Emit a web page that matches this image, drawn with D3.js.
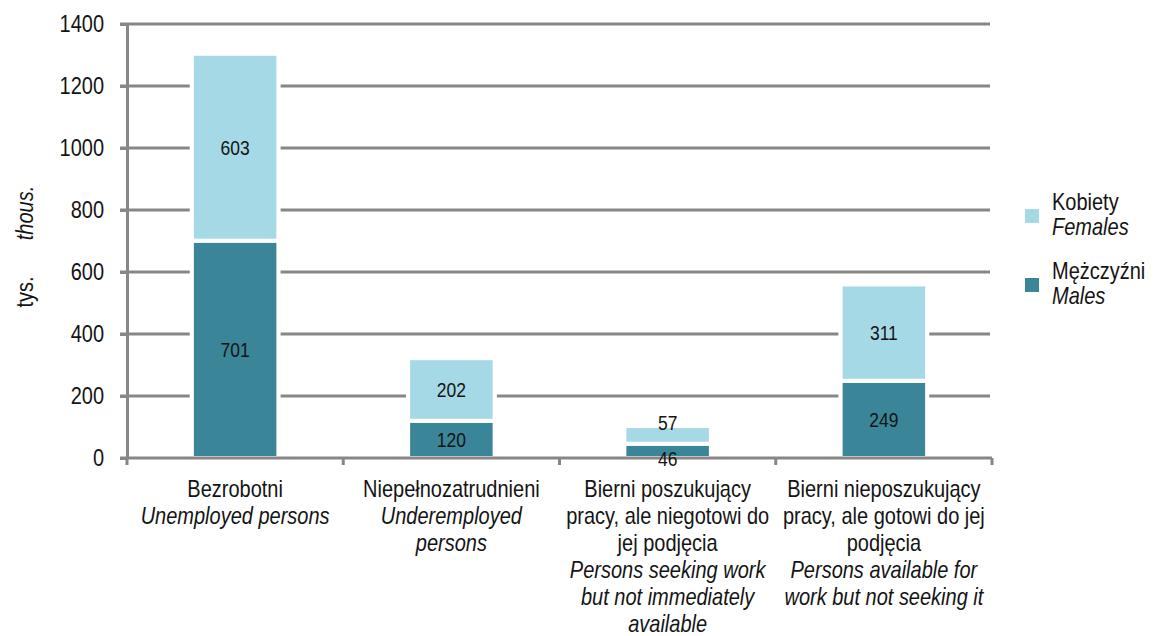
<!DOCTYPE html>
<html>
<head>
<meta charset="utf-8">
<script src="https://cdn.jsdelivr.net/npm/d3@7"></script>
<style>
  html, body { margin: 0; padding: 0; background: #fff; }
  svg { display: block; font-family: "Liberation Sans", Arial, sans-serif; }
</style>
</head>
<body>
<svg id="chart" width="1155" height="636"></svg>
<script>
// ---- data ----
const categories = ["unemployed", "underemployed", "seekingNotAvailable", "availableNotSeeking"];
const labelLinesPL = [
  ["Bezrobotni"],
  ["Niepełnozatrudnieni"],
  ["Bierni poszukujący", "pracy, ale niegotowi do", "jej podjęcia"],
  ["Bierni nieposzukujący", "pracy, ale gotowi do jej", "podjęcia"]
];
const labelLinesEN = [
  ["Unemployed persons"],
  ["Underemployed", "persons"],
  ["Persons seeking work", "but not immediately", "available"],
  ["Persons available for", "work but not seeking it"]
];
const males = [701, 120, 46, 249];
const females = [603, 202, 57, 311];
const yTicks = [0, 200, 400, 600, 800, 1000, 1200, 1400];
const seriesNamesPL = ["Kobiety", "Mężczyźni"];
const seriesNamesEN = ["Females", "Males"];
const yTitlePL = "tys.";
const yTitleEN = "thous.";

(function () {
// ---- styles ----
const colFemale = "#a6d9e6";
const colMale = "#3b8599";
const gridCol = "#878787";
const textCol = "#141414";
const SY = 1.2; // vertical glyph stretch of the reference's condensed font

const svg = d3.select("#chart");
const pLeft = 127, pRight = 992, pTop = 24, pBottom = 458;

const x = d3.scaleBand().domain(categories).range([pLeft, pRight]).paddingInner(0.6).paddingOuter(0.3);
const y = d3.scaleLinear().domain([0, 1400]).range([pBottom, pTop]);

// gridlines
svg.append("g").selectAll("line").data(yTicks.filter(d => d > 0)).join("line")
  .attr("x1", pLeft - 7).attr("x2", 990)
  .attr("y1", d => y(d)).attr("y2", d => y(d))
  .attr("stroke", gridCol).attr("stroke-width", 3);

// y axis
const yAxis = d3.axisLeft(y).tickValues(yTicks).tickSizeInner(7).tickSizeOuter(0).tickPadding(16).tickFormat(d3.format("d"));
const gy = svg.append("g").attr("transform", `translate(${pLeft},0)`).call(yAxis);
gy.select(".domain").attr("stroke", gridCol).attr("stroke-width", 3);
gy.selectAll(".tick line").attr("stroke", gridCol).attr("stroke-width", 3);
gy.selectAll(".tick text").attr("fill", textCol).style("font-size", "20px")
  .style("font-family", "'Liberation Sans', Arial, sans-serif")
  .attr("dy", "0.30em").attr("transform", `scale(1,${SY})`);

// x axis boundary ticks
const step = x.step(), bw = x.bandwidth();
const boundaries = categories.map(c => x(c) - (step - bw) / 2).concat([pRight]);
svg.append("g").selectAll("line").data(boundaries).join("line")
  .attr("x1", d => d).attr("x2", d => d).attr("y1", y(0)).attr("y2", y(0) + 7)
  .attr("stroke", gridCol).attr("stroke-width", 3);

// bars
const stackData = categories.map((c, i) => ({ c, m: males[i], f: females[i] }));
const bars = svg.append("g");
bars.selectAll("rect.bg").data(stackData).join("rect").attr("class", "bg")
  .attr("x", d => x(d.c) - 2).attr("width", bw + 4)
  .attr("y", d => y(d.m + d.f) - 2).attr("height", d => y(0) - y(d.m + d.f) + 0.5)
  .attr("fill", "#fff");
bars.selectAll("rect.male").data(stackData).join("rect").attr("class", "male")
  .attr("x", d => x(d.c)).attr("width", bw)
  .attr("y", d => y(d.m)).attr("height", d => y(0) - y(d.m))
  .attr("fill", colMale).attr("stroke", "#fff").attr("stroke-width", 4);
bars.selectAll("rect.female").data(stackData).join("rect").attr("class", "female")
  .attr("x", d => x(d.c)).attr("width", bw)
  .attr("y", d => y(d.m + d.f)).attr("height", d => y(d.m) - y(d.m + d.f))
  .attr("fill", colFemale).attr("stroke", "#fff").attr("stroke-width", 4);
// x axis line over bar bottoms
svg.append("line").attr("x1", pLeft - 7).attr("x2", pRight).attr("y1", y(0)).attr("y2", y(0))
  .attr("stroke", gridCol).attr("stroke-width", 3);

// value labels
const lbl = svg.append("g").style("font-size", "17.5px").attr("fill", textCol).attr("text-anchor", "middle");
stackData.forEach(d => {
  const small = (y(0) - y(d.m + d.f)) < 45;
  const cx = x(d.c) + bw / 2;
  const my = small ? y(0) : (y(0) + y(d.m)) / 2;
  const fy = small ? y(d.m + d.f) - 4 : (y(d.m) + y(d.m + d.f)) / 2;
  lbl.append("text").attr("transform", `translate(${cx},${my}) scale(1,${SY})`).attr("dy", "0.36em").text(d.m);
  lbl.append("text").attr("transform", `translate(${cx},${fy}) scale(1,${SY})`).attr("dy", "0.36em").text(d.f);
});

// category labels
const catG = svg.append("g").style("font-size", "20px").attr("fill", textCol).attr("text-anchor", "middle");
categories.forEach((c, i) => {
  const cx = x(c) + bw / 2;
  const t = catG.append("text").attr("transform", `translate(${cx},497) scale(1,${SY})`);
  const lines = labelLinesPL[i].map(s => ({ s, it: false })).concat(labelLinesEN[i].map(s => ({ s, it: true })));
  lines.forEach((l, j) => {
    t.append("tspan").attr("x", 0).attr("dy", j === 0 ? 0 : 27 / SY)
      .style("font-style", l.it ? "italic" : "normal").text(l.s);
  });
});

// y title
svg.append("text").attr("transform", `translate(33,292) rotate(-90) scale(1,${SY})`).attr("text-anchor", "middle")
  .style("font-size", "20px").attr("fill", textCol).text(yTitlePL);
svg.append("text").attr("transform", `translate(33,213) rotate(-90) scale(1,${SY})`).attr("text-anchor", "middle")
  .style("font-size", "20px").style("font-style", "italic").attr("fill", textCol).text(yTitleEN);

// legend
const legend = svg.append("g");
const legCols = [colFemale, colMale];
const legY = [209, 278];
const legText = [210, 279];
seriesNamesPL.forEach((n, i) => {
  legend.append("rect").attr("x", 1025).attr("y", legY[i]).attr("width", 14).attr("height", 14).attr("fill", legCols[i]);
  const t = legend.append("text").attr("transform", `translate(1052,${legText[i]}) scale(1,${SY})`)
    .style("font-size", "20px").attr("fill", textCol);
  t.append("tspan").attr("x", 0).text(n);
  t.append("tspan").attr("x", 0).attr("dy", 25 / SY).style("font-style", "italic").text(seriesNamesEN[i]);
});
})();
</script>
</body>
</html>
